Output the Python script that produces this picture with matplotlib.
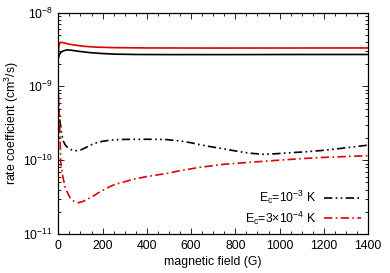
import matplotlib
matplotlib.use("Agg")
import matplotlib.pyplot as plt
from matplotlib.ticker import MultipleLocator, LogLocator, NullFormatter

plt.rcParams['font.family'] = ['Liberation Sans', 'DejaVu Sans']
plt.rcParams['mathtext.fontset'] = 'custom'
plt.rcParams['mathtext.rm'] = 'Liberation Sans'
plt.rcParams['mathtext.it'] = 'Liberation Sans:italic'

# solid curves (upper pair)
b_el = [0, 5, 10, 20, 38, 60, 80, 100, 150, 200, 256, 350, 500, 800, 1100, 1400]
k_el_1e3 = [2.4e-9, 2.7e-9, 2.85e-9, 3.0e-9, 3.12e-9, 3.08e-9, 3.02e-9, 2.96e-9,
            2.85e-9, 2.78e-9, 2.73e-9, 2.7e-9, 2.69e-9, 2.69e-9, 2.7e-9, 2.7e-9]
b_el_r = [0, 3, 6, 12, 25, 50, 75, 100, 135, 180, 256, 400, 700, 1400]
k_el_3e4 = [2.9e-9, 3.5e-9, 3.85e-9, 3.96e-9, 3.88e-9, 3.72e-9, 3.62e-9, 3.53e-9,
            3.45e-9, 3.39e-9, 3.34e-9, 3.31e-9, 3.3e-9, 3.31e-9]

# dash-dot curves (lower pair)
b_in_k = [0, 4, 8, 15, 23, 33, 45, 60, 83, 100, 120, 140, 166, 200, 226, 256, 300,
          400, 489, 550, 600, 640, 700, 750, 820, 870, 925, 980, 1046, 1120, 1200,
          1300, 1400]
k_in_1e3 = [7e-10, 4.5e-10, 3.2e-10, 2.3e-10, 1.8e-10, 1.58e-10, 1.46e-10, 1.38e-10,
            1.34e-10, 1.37e-10, 1.46e-10, 1.57e-10, 1.7e-10, 1.8e-10, 1.85e-10,
            1.89e-10, 1.91e-10, 1.92e-10, 1.9e-10, 1.82e-10, 1.72e-10, 1.62e-10,
            1.5e-10, 1.42e-10, 1.3e-10, 1.24e-10, 1.2e-10, 1.22e-10, 1.26e-10,
            1.3e-10, 1.36e-10, 1.47e-10, 1.6e-10]
b_in_r = [0, 4, 8, 11, 18, 30, 42, 53, 70, 90, 110, 135, 160, 180, 220, 256, 300,
          338, 400, 489, 550, 640, 750, 896, 1000, 1100, 1200, 1300, 1400]
k_in_3e4 = [8.5e-10, 4.4e-10, 2e-10, 9.3e-11, 6.5e-11, 4.4e-11, 3.6e-11, 3.1e-11,
            2.8e-11, 2.65e-11, 2.75e-11, 3.0e-11, 3.3e-11, 3.6e-11, 4.2e-11, 4.7e-11,
            5.1e-11, 5.5e-11, 6.0e-11, 6.6e-11, 7.2e-11, 8.0e-11, 8.8e-11, 9.5e-11,
            1.0e-10, 1.05e-10, 1.09e-10, 1.12e-10, 1.15e-10]

labels = [r'E$_\mathregular{c}$=10$^{\mathregular{-3}}$ K',
          r'E$_\mathregular{c}$=3$\times$10$^{\mathregular{-4}}$ K']

fs = 8.8

fig = plt.figure(figsize=(3.9, 2.73), dpi=100)
ax = fig.add_axes([0.1495, 0.1429, 0.7945, 0.8113])

ax.plot(b_el, k_el_1e3, color='black', lw=1.2)
ax.plot(b_el_r, k_el_3e4, color='#e00000', lw=1.2)
ax.plot(b_in_k, k_in_1e3, color='black', lw=1.2, dashes=(5, 2, 1, 2, 1, 2), label=labels[0])
ax.plot(b_in_r, k_in_3e4, color='#e00000', lw=1.2, dashes=(5, 2, 1, 2), label=labels[1])

ax.set_yscale('log')
ax.set_xlim(0, 1400)
ax.set_ylim(1e-11, 1e-8)
ax.xaxis.set_major_locator(MultipleLocator(200))
ax.xaxis.set_minor_locator(MultipleLocator(50))
ax.yaxis.set_major_locator(LogLocator(base=10, numticks=10))
ax.yaxis.set_minor_locator(LogLocator(base=10, subs=range(2, 10), numticks=10))
ax.yaxis.set_minor_formatter(NullFormatter())
ax.tick_params(which='both', direction='in', top=True, right=True, labelsize=fs, width=0.6)
ax.tick_params(which='major', length=4, pad=4)
ax.tick_params(which='minor', length=2)
for s in ax.spines.values():
    s.set_linewidth(0.9)

ax.set_xlabel('magnetic field (G)', fontsize=fs, labelpad=3.5)
ax.set_ylabel(r'rate coefficient (cm$^{\mathregular{3}}$/s)', fontsize=fs, labelpad=1)

ax.legend(loc='lower right', frameon=False, fontsize=fs, markerfirst=False,
          handlelength=3.0, handletextpad=0.6, borderaxespad=0.2, labelspacing=0.25)

fig.savefig('out.png', dpi=100)
